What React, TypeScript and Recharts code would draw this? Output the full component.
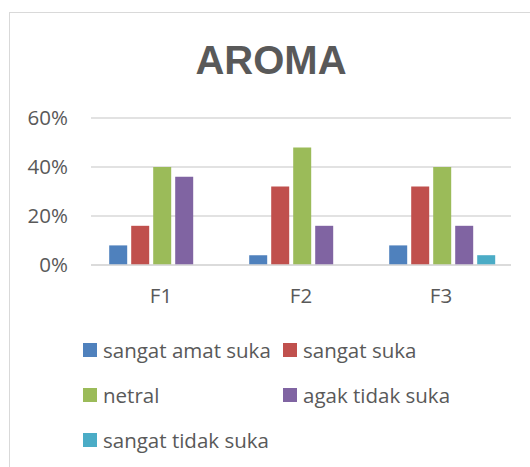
import { Bar, BarChart, CartesianGrid, XAxis, YAxis } from "recharts"

const categories = ["F1", "F2", "F3"]
const sangatAmatSuka = [8, 4, 8]
const sangatSuka = [16, 32, 32]
const netral = [40, 48, 40]
const agakTidakSuka = [36, 16, 16]
const sangatTidakSuka = [0, 0, 4]
const yTicks = [0, 20, 40, 60]

const series = [
  { key: "sangatAmatSuka", name: "sangat amat suka", color: "#4f81bd", values: sangatAmatSuka },
  { key: "sangatSuka", name: "sangat suka", color: "#c0504d", values: sangatSuka },
  { key: "netral", name: "netral", color: "#9bbb59", values: netral },
  { key: "agakTidakSuka", name: "agak tidak suka", color: "#8064a2", values: agakTidakSuka },
  { key: "sangatTidakSuka", name: "sangat tidak suka", color: "#4bacc6", values: sangatTidakSuka },
]

const data = categories.map((name, i) => {
  const row: Record<string, string | number> = { name }
  series.forEach((s) => {
    row[s.key] = s.values[i]
  })
  return row
})

const textColor = "#595959"
const font = "'Open Sans', sans-serif"

export default function App() {
  return (
    <div style={{ position: "absolute", left: 0, top: 0, width: 530, height: 467, background: "#fff", overflow: "hidden" }}>
      {/* chart frame */}
      <div
        style={{
          position: "absolute",
          left: 9,
          top: 12,
          width: 540,
          height: 470,
          border: "1px solid #d9d9d9",
          boxSizing: "border-box",
        }}
      />
      <div
        style={{
          position: "absolute",
          left: 0,
          width: 542,
          top: 37,
          textAlign: "center",
          fontFamily: "'Liberation Sans', Arial, sans-serif",
          fontWeight: "bold",
          fontSize: 40,
          lineHeight: "46px",
          color: textColor,
        }}
      >
        AROMA
      </div>
      <div style={{ position: "absolute", left: 0, top: 0 }}>
        <BarChart
          width={530}
          height={467}
          data={data}
          margin={{ top: 118, right: 19, left: 31, bottom: 172 }}
          barCategoryGap="13%"
          barGap={4}
        >
          <CartesianGrid vertical={false} stroke="#d9d9d9" strokeWidth={1.5} />
          <XAxis
            dataKey="name"
            height={30}
            axisLine={{ stroke: "#d9d9d9", strokeWidth: 1.5 }}
            tickLine={false}
            tickSize={0}
            tickMargin={23}
            tick={{ fill: textColor, fontSize: 20.5, fontFamily: font }}
          />
          <YAxis
            width={60}
            domain={[0, 60]}
            ticks={yTicks}
            axisLine={false}
            tickLine={false}
            tickSize={0}
            tickMargin={23}
            tickFormatter={(v: number) => `${v}%`}
            tick={{ fill: textColor, fontSize: 20.5, fontFamily: font }}
          />
          {series.map((s) => (
            <Bar key={s.key} dataKey={s.key} name={s.name} fill={s.color} isAnimationActive={false} />
          ))}
        </BarChart>
      </div>
      {/* legend */}
      <div
        style={{
          position: "absolute",
          left: 83,
          top: 336,
          display: "grid",
          gridTemplateColumns: "200px 200px",
          rowGap: 17,
          fontFamily: font,
          fontSize: 20.5,
          color: textColor,
        }}
      >
        {series.map((s) => (
          <div key={s.key} style={{ display: "flex", alignItems: "center", height: 28 }}>
            <span style={{ width: 14, height: 14, background: s.color, marginRight: 6, display: "inline-block" }} />
            <span>{s.name}</span>
          </div>
        ))}
      </div>
    </div>
  )
}
